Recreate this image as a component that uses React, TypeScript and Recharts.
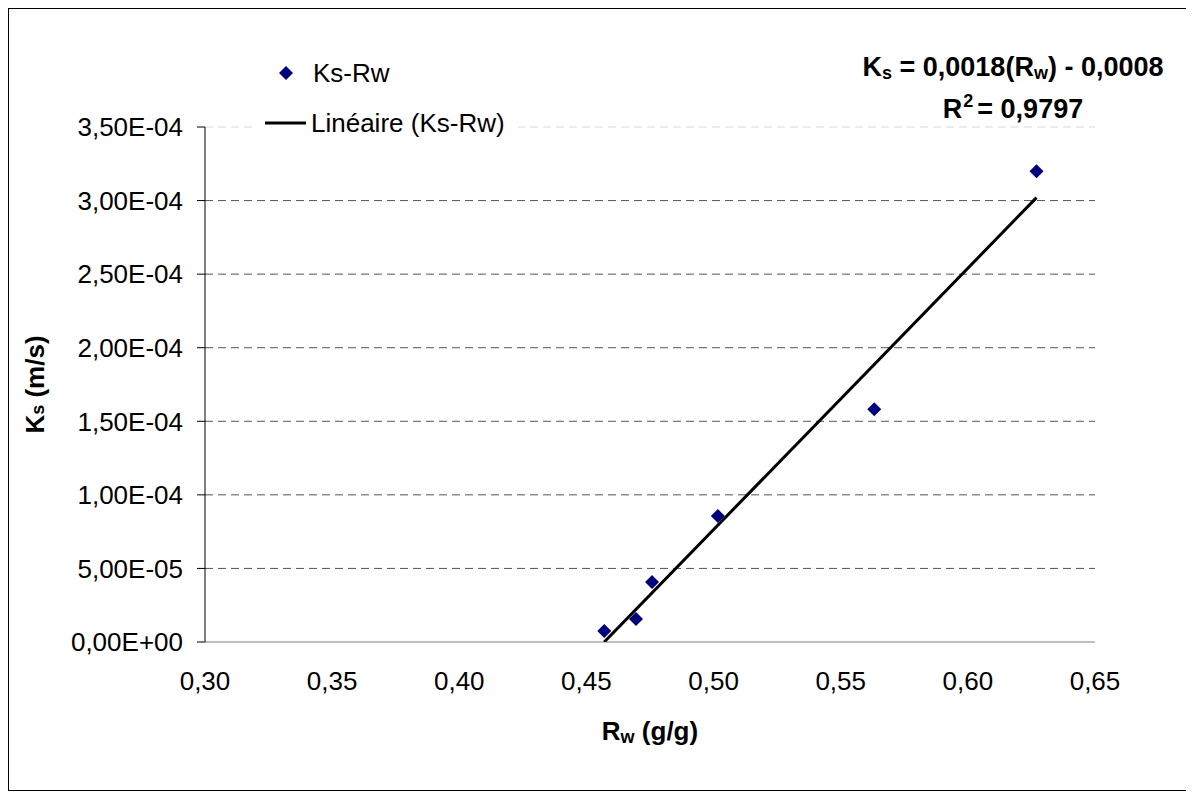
import { ScatterChart, Scatter, XAxis, YAxis, CartesianGrid, Legend, Label } from 'recharts';

// valeurs
const rwValues = [0.457, 0.4695, 0.4758, 0.5017, 0.5632, 0.627];
const ksValues = [7.5e-6, 1.56e-5, 4.08e-5, 8.57e-5, 1.582e-4, 3.2e-4];

// droite de tendance (extrémités lues)
const trendRw = [0.457, 0.627];
const trendKs = [0, 3.02e-4];

const xTicks = [0.3, 0.35, 0.4, 0.45, 0.5, 0.55, 0.6, 0.65];
const yTicks = [0, 5e-5, 1e-4, 1.5e-4, 2e-4, 2.5e-4, 3e-4, 3.5e-4];
const darkGridValues = [5e-5, 1e-4, 1.5e-4, 2e-4, 2.5e-4, 3e-4];
const lightGridValues = [3.5e-4];

const FONT = '"Liberation Sans", Arial, sans-serif';
const NAVY = '#000080';

const points = rwValues.map((x, i) => ({ x, y: ksValues[i] }));
const trend = trendRw.map((x, i) => ({ x, y: trendKs[i] }));

function fmtX(v: number) {
  return v.toFixed(2).replace('.', ',');
}

function fmtY(v: number) {
  if (v === 0) return '0,00E+00';
  const e = Math.floor(Math.log10(Math.abs(v)) + 1e-9);
  const m = v / Math.pow(10, e);
  const sign = e < 0 ? '-' : '+';
  return `${m.toFixed(2).replace('.', ',')}E${sign}${String(Math.abs(e)).padStart(2, '0')}`;
}

const Diamond = (props: any) => {
  const { cx, cy } = props;
  const r = 7;
  return <polygon points={`${cx},${cy - r} ${cx + r},${cy} ${cx},${cy + r} ${cx - r},${cy}`} fill={NAVY} />;
};

const NoShape = () => <g />;

const renderLegend = (props: any) => {
  const { payload } = props;
  return (
    <div style={{ background: '#fff', fontFamily: FONT, fontSize: 26, color: '#000', width: 262, height: 96, position: 'relative' }}>
      {(payload || []).map((entry: any, i: number) => (
        <div key={i} style={{ position: 'absolute', left: 0, top: i === 0 ? 8 : 58, height: 30, display: 'flex', alignItems: 'center' }}>
          <svg width={54} height={30} style={{ display: 'block' }}>
            {entry.value === 'Ks-Rw' ? (
              <polygon points="30,8 37,15 30,22 23,15" fill={NAVY} />
            ) : (
              <line x1={9} x2={50} y1={15} y2={15} stroke="#000" strokeWidth={3} />
            )}
          </svg>
          <span style={{ marginLeft: entry.value === 'Ks-Rw' ? 3 : 1, whiteSpace: 'nowrap' }}>{entry.value}</span>
        </div>
      ))}
    </div>
  );
};

const YTitle = (props: any) => {
  const { viewBox } = props;
  const x = viewBox.x + 26;
  const y = viewBox.y + viewBox.height / 2;
  return (
    <text x={x} y={y} transform={`rotate(-90, ${x}, ${y})`} textAnchor="middle" dominantBaseline="central"
      fontFamily={FONT} fontSize={26} fontWeight="bold" fill="#000">
      K<tspan fontSize={18} dy={3}>s</tspan><tspan dy={-3}> (m/s)</tspan>
    </text>
  );
};

const XTitle = (props: any) => {
  const { viewBox } = props;
  const x = viewBox.x + viewBox.width / 2;
  const y = viewBox.y + 98;
  return (
    <text x={x} y={y} textAnchor="middle" fontFamily={FONT} fontSize={26} fontWeight="bold" fill="#000">
      R<tspan fontSize={18} dy={3}>w</tspan><tspan dy={-3}> (g/g)</tspan>
    </text>
  );
};

const eqLine: any = {
  position: 'absolute',
  left: 1004 - 200,
  width: 400,
  textAlign: 'center',
  fontFamily: FONT,
  fontSize: 27,
  fontWeight: 'bold',
  color: '#000',
  lineHeight: '30px',
  whiteSpace: 'nowrap',
};
const subStyle: any = { fontSize: 18, position: 'relative', top: 3, verticalAlign: 'baseline' };
const supStyle: any = { fontSize: 18, position: 'relative', top: -11, verticalAlign: 'baseline', marginLeft: 1, marginRight: 4 };

export default function App() {
  return (
    <div style={{ position: 'relative', width: 1177, height: 781, border: '1px solid #000', background: '#fff' }}>
      <ScatterChart width={1177} height={781} margin={{ top: 118, right: 91, bottom: 0, left: 0 }}>
        <CartesianGrid vertical={false} horizontalValues={lightGridValues} stroke="#d8d8d8" strokeDasharray="8 5" />
        <CartesianGrid vertical={false} horizontalValues={darkGridValues} stroke="#555" strokeDasharray="8 5" />
        <XAxis
          type="number"
          dataKey="x"
          domain={[0.3, 0.65]}
          ticks={xTicks}
          tickFormatter={fmtX}
          allowDataOverflow
          height={148}
          tickLine={false}
          tickSize={0}
          tickMargin={30}
          axisLine={{ stroke: '#808080', strokeWidth: 1 }}
          tick={{ fill: '#000', fontSize: 26, fontFamily: FONT }}
        >
          <Label content={XTitle} />
        </XAxis>
        <YAxis
          type="number"
          dataKey="y"
          domain={[0, 3.5e-4]}
          ticks={yTicks}
          tickFormatter={fmtY}
          allowDataOverflow
          width={196}
          tickSize={8}
          tickMargin={14}
          tickLine={{ stroke: '#000' }}
          axisLine={{ stroke: '#000', strokeWidth: 1 }}
          tick={{ fill: '#000', fontSize: 26, fontFamily: FONT }}
        >
          <Label content={YTitle} />
        </YAxis>
        <Legend
          layout="vertical"
          align="center"
          verticalAlign="middle"
          content={renderLegend}
          wrapperStyle={{ left: 247, top: 41, width: 262, height: 96 }}
        />
        <Scatter name="Ks-Rw" data={points} fill={NAVY} shape={Diamond} isAnimationActive={false} />
        <Scatter
          name="Linéaire (Ks-Rw)"
          data={trend}
          line={{ stroke: '#000', strokeWidth: 3 }}
          shape={NoShape}
          legendType="line"
          isAnimationActive={false}
        />
      </ScatterChart>
      <div style={{ ...eqLine, top: 43 }}>
        K<span style={subStyle}>s</span> = 0,0018(R<span style={subStyle}>w</span>) - 0,0008
      </div>
      <div style={{ ...eqLine, top: 85 }}>
        R<span style={supStyle}>2</span>= 0,9797
      </div>
    </div>
  );
}
